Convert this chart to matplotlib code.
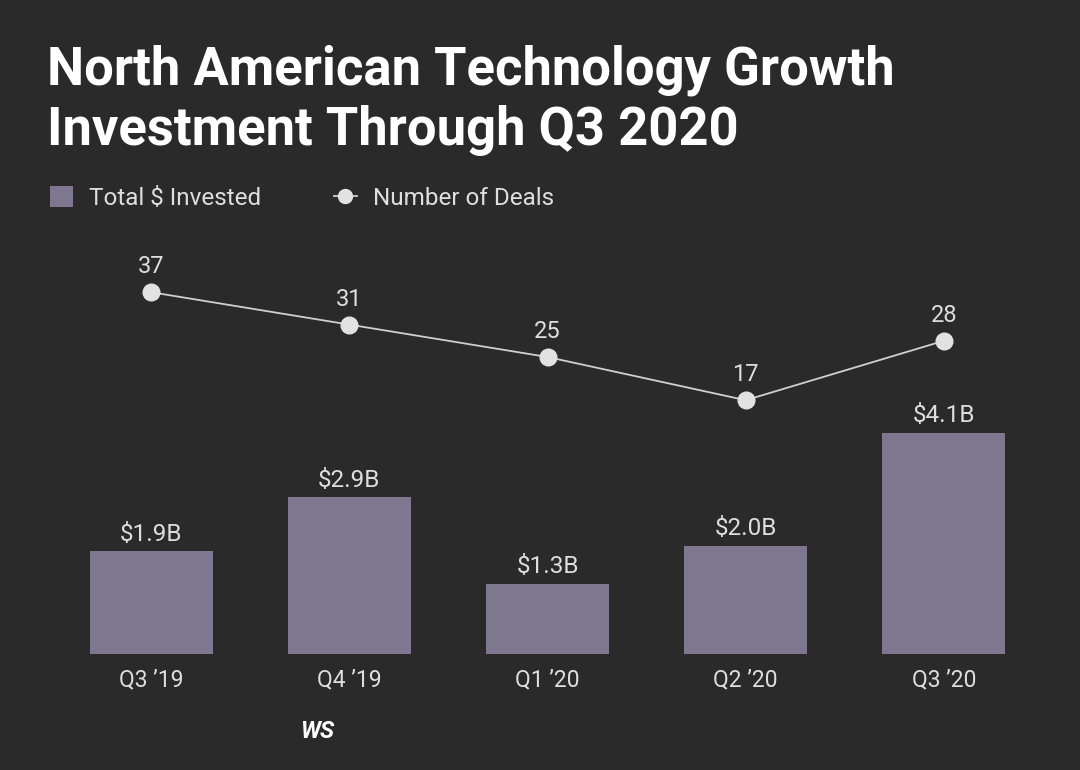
import matplotlib.pyplot as plt
from matplotlib.patches import Patch
from matplotlib.lines import Line2D

plt.rcParams['font.family'] = ['Roboto', 'DejaVu Sans']

# data
quarters = ["Q3 \u201919", "Q4 \u201919", "Q1 \u201920", "Q2 \u201920", "Q3 \u201920"]
invested = [1.9, 2.9, 1.3, 2.0, 4.1]          # billions USD
invested_labels = ["$1.9B", "$2.9B", "$1.3B", "$2.0B", "$4.1B"]
deals = [37, 31, 25, 17, 28]

bg = '#2a2a2a'
bar_color = '#7d7890'
txt = '#dedede'

fig = plt.figure(figsize=(10.8, 7.7), dpi=100, facecolor=bg)
ax = fig.add_axes([52/1080, 116/770, (1043-52)/1080, 400/770])
ax.set_facecolor(bg)

x = range(len(quarters))
bars = ax.bar(x, invested, width=0.62, color=bar_color, zorder=2)
ax.set_xlim(-0.5, len(quarters) - 0.5)
ax.set_ylim(0, 400/54)
for b, lab in zip(bars, invested_labels):
    ax.annotate(lab, (b.get_x() + b.get_width()/2, b.get_height()),
                xytext=(0, 4), textcoords='offset points',
                ha='center', va='bottom', color=txt, fontsize=17.5)

ax.set_xticks(list(x))
ax.set_xticklabels(quarters, color=txt, fontsize=16.5)
ax.tick_params(axis='x', length=0, pad=10)
ax.set_yticks([])
for s in ax.spines.values():
    s.set_visible(False)

# number of deals on a twin axis
ax2 = ax.twinx()
ax2.plot(list(x), deals, color='#d0d0d0', lw=1.3, marker='o', ms=12,
         mfc='#e2e2e2', mec='#e2e2e2', zorder=3)
ax2.set_ylim(-30, -30 + 400/5.4)
for xi, d in zip(x, deals):
    ax2.annotate(str(d), (xi, d), xytext=(0, 10), textcoords='offset points',
                 ha='center', va='bottom', color=txt, fontsize=17)
ax2.set_yticks([])
for s in ax2.spines.values():
    s.set_visible(False)

# title
fig.text(47/1080, 1 - 85/770, "North American Technology Growth",
         color='white', fontsize=37.8, fontweight='bold', va='baseline')
fig.text(47/1080, 1 - 145/770, "Investment Through Q3 2020",
         color='white', fontsize=37.8, fontweight='bold', va='baseline')

# legend
handles = [Patch(facecolor=bar_color, edgecolor='none'),
           Line2D([0], [0], color='#d0d0d0', lw=1.3, marker='o', ms=10,
                  mfc='#e2e2e2', mec='#e2e2e2')]
fig.legend(handles, ["Total $ Invested", "Number of Deals"],
           loc='center left', bbox_to_anchor=(50/1080, 1 - 198/770),
           ncol=2, frameon=False, fontsize=17.5, labelcolor=txt,
           borderpad=0, borderaxespad=0,
           handlelength=0.95, handleheight=0.95, columnspacing=3.0,
           handletextpad=0.65)

# source
fig.text(300/1080, 1 - 732/770, "WS", color='white', fontsize=17,
         fontweight='bold', fontstyle='italic', va='center')

fig.savefig('out.png', dpi=100, facecolor=bg)
